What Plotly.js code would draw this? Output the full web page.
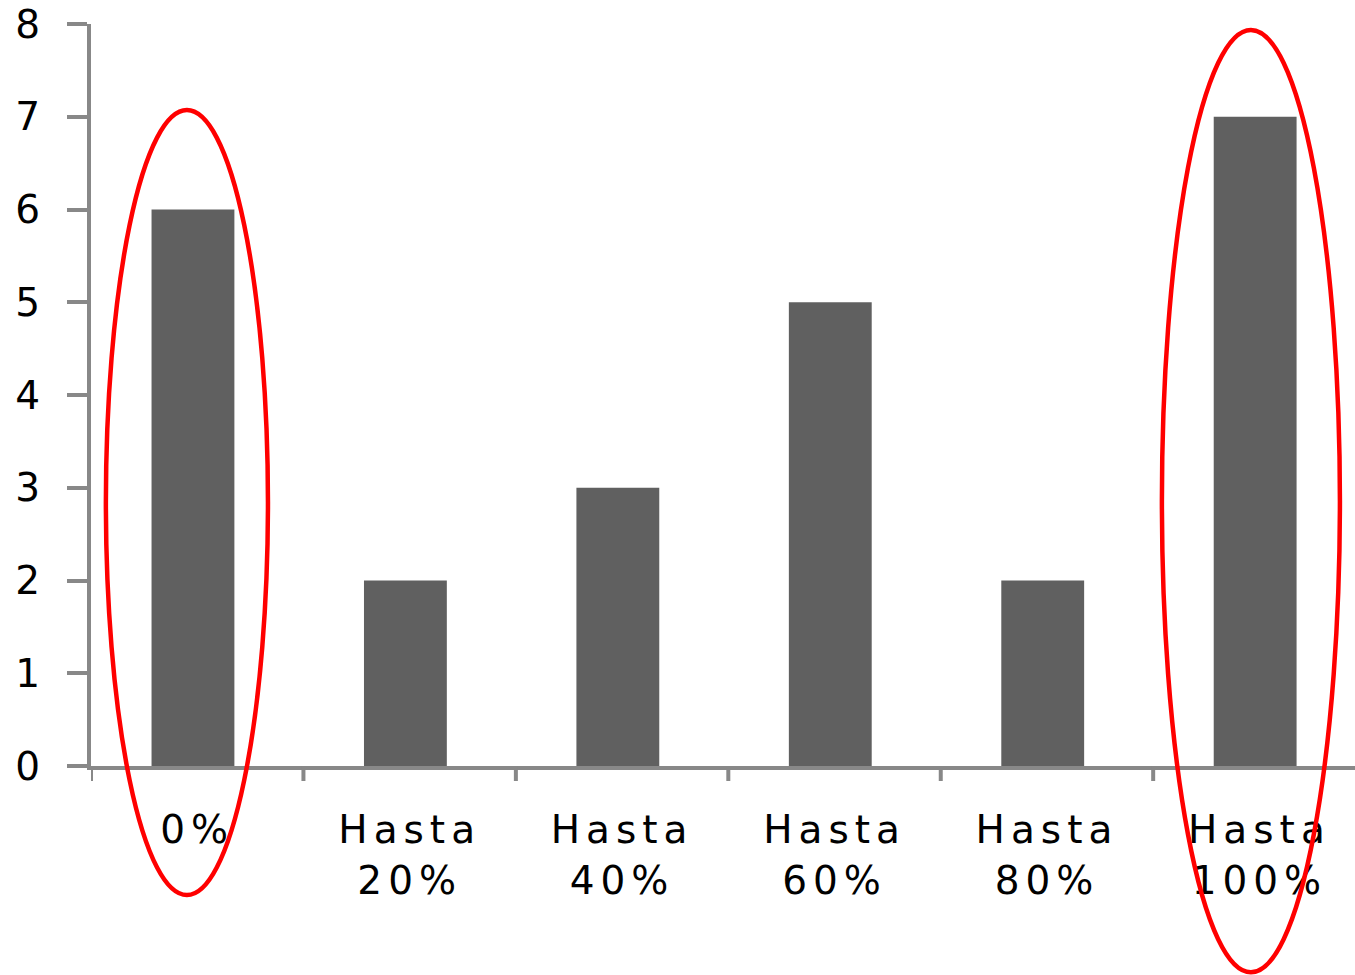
<!DOCTYPE html>
<html>
<head>
<meta charset="utf-8">
<script src="https://cdn.plot.ly/plotly-3.0.1.min.js"></script>
<style>
  html, body { margin: 0; padding: 0; background: #ffffff; }
  #chart { width: 1355px; height: 975px; }
  /* spaced-out category labels */
  .xtick text { letter-spacing: 6px; }
</style>
</head>
<body>
<div id="chart"></div>
<script>
// Categories (share brackets) and counts
const categories = ['0%', 'Hasta 20%', 'Hasta 40%', 'Hasta 60%', 'Hasta 80%', 'Hasta 100%'];
const tickLabels = ['0%', 'Hasta<br>20%', 'Hasta<br>40%', 'Hasta<br>60%', 'Hasta<br>80%', 'Hasta<br>100%'];
const counts = [6, 2, 3, 5, 2, 7];
const yTicks = [0, 1, 2, 3, 4, 5, 6, 7, 8];

// Highlighted categories (first and last) ringed with red ellipses
const highlights = [
  { x0: -0.43, x1: 0.333, y0: -0.174, y1: 0.884 },
  { x0: 4.541, x1: 5.379, y0: -0.278, y1: 0.992 }
];

const axisGrey = '#888888';
const font = { family: 'DejaVu Sans, Verdana, sans-serif', size: 39, color: '#000000' };

const trace = {
  type: 'bar',
  x: categories.map((_, i) => i),
  y: counts,
  width: 0.39,
  offset: -0.215,
  marker: { color: '#606060', line: { width: 0 } },
  hoverinfo: 'skip'
};

const layout = {
  width: 1355,
  height: 975,
  margin: { l: 91, r: 0, t: 24, b: 209 },
  paper_bgcolor: '#ffffff',
  plot_bgcolor: '#ffffff',
  showlegend: false,
  font: font,
  xaxis: {
    type: 'linear',
    range: [-0.5, 5.45],
    tickmode: 'array',
    tickvals: categories.map((_, i) => i),
    ticktext: tickLabels,
    showgrid: false,
    zeroline: false,
    showline: true,
    linecolor: axisGrey,
    linewidth: 4,
    ticks: '',
    tickfont: font,
    ticklabelstandoff: 26
  },
  yaxis: {
    range: [0, 8],
    tickmode: 'array',
    tickvals: yTicks,
    ticktext: yTicks.map(String),
    showgrid: false,
    zeroline: false,
    showline: true,
    linecolor: axisGrey,
    linewidth: 4,
    ticks: 'outside',
    ticklen: 20,
    tickwidth: 4,
    tickcolor: axisGrey,
    tickfont: font,
    ticklabelstandoff: 19
  },
  shapes: []
};

// Boundary tick marks between categories, hanging below the axis line
for (let i = 0; i < categories.length; i++) {
  layout.shapes.push({
    type: 'line', xref: 'x', yref: 'paper',
    x0: i - 0.5, x1: i - 0.5, y0: -15, y1: 0, ysizemode: 'pixel', yanchor: 0,
    line: { color: axisGrey, width: 4 }
  });
}

highlights.forEach(h => {
  layout.shapes.push({
    type: 'circle', xref: 'x', yref: 'paper',
    x0: h.x0, x1: h.x1, y0: h.y0, y1: h.y1,
    line: { color: '#ff0000', width: 4.5 },
    fillcolor: 'rgba(0,0,0,0)',
    layer: 'above'
  });
});

Plotly.newPlot('chart', [trace], layout, { staticPlot: true, displayModeBar: false });
</script>
</body>
</html>
